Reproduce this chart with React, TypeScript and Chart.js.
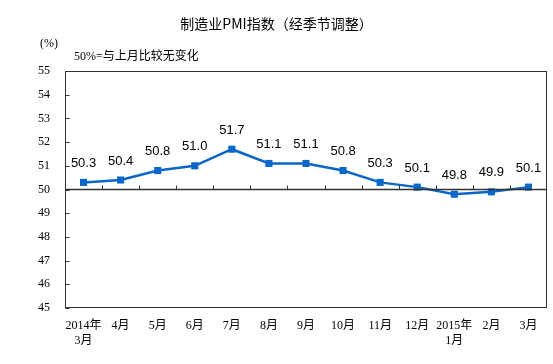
import React, { useEffect, useRef } from "react";
import { Chart, registerables } from "chart.js";

Chart.register(...registerables);

const title = "制造业PMI指数（经季节调整）";
const unitLabel = "(%)";
const note = "50%=与上月比较无变化";
const categories: (string | string[])[] = [
  ["2014年", "3月"], "4月", "5月", "6月", "7月", "8月", "9月", "10月", "11月", "12月",
  ["2015年", "1月"], "2月", "3月",
];
const pmiValues = [50.3, 50.4, 50.8, 51.0, 51.7, 51.1, 51.1, 50.8, 50.3, 50.1, 49.8, 49.9, 50.1];
const yMin = 45;
const yMax = 55;
const baseline = 50;

const LINE_COLOR = "#0a66c8";
const AXIS_COLOR = "#333333";

const decorPlugin = {
  id: "decor",
  afterDraw(chart: any) {
    const { ctx, chartArea } = chart;
    const x = chart.scales.x;
    const y = chart.scales.y;
    ctx.save();
    // box
    ctx.strokeStyle = AXIS_COLOR;
    ctx.lineWidth = 1;
    const l = Math.round(chartArea.left) + 0.5;
    const r = Math.round(chartArea.right) - 0.5;
    const t = Math.round(chartArea.top) + 0.5;
    const b = Math.round(chartArea.bottom) - 0.5;
    ctx.strokeRect(l, t, r - l, b - t);
    // y inner ticks
    ctx.beginPath();
    for (let v = yMin; v <= yMax; v++) {
      const py = Math.round(y.getPixelForValue(v)) + 0.5;
      ctx.moveTo(l, py);
      ctx.lineTo(l + 4, py);
    }
    ctx.stroke();
    // baseline at 50
    const by = y.getPixelForValue(baseline);
    ctx.lineWidth = 1.6;
    ctx.beginPath();
    ctx.moveTo(l, by);
    ctx.lineTo(r, by);
    ctx.stroke();
    ctx.lineWidth = 1;
    ctx.beginPath();
    for (let i = 1; i < categories.length; i++) {
      const px = Math.round((x.getPixelForValue(i - 1) + x.getPixelForValue(i)) / 2) + 0.5;
      ctx.moveTo(px, by);
      ctx.lineTo(px, by - 4);
    }
    ctx.stroke();

    // texts
    ctx.fillStyle = "#000";
    ctx.textBaseline = "middle";
    ctx.textAlign = "center";
    ctx.font = "14px 'Noto Sans CJK SC', sans-serif";
    ctx.fillText(title, chart.width / 2, 24);
    ctx.textAlign = "left";
    ctx.font = "12px 'Liberation Serif', 'Noto Sans CJK SC', serif";
    ctx.fillText(unitLabel, 40, 44);
    ctx.font = "12px 'Liberation Serif', 'Noto Sans CJK SC', serif";
    ctx.fillText(note, 74, 57);

    // data labels
    const meta = chart.getDatasetMeta(0);
    ctx.textAlign = "center";
    ctx.font = "13px 'Liberation Sans', Arial, sans-serif";
    meta.data.forEach((pt: any, i: number) => {
      ctx.fillText(pmiValues[i].toFixed(1), pt.x, pt.y - 19);
    });
    ctx.restore();
  },
};

export default function App() {
  const ref = useRef<HTMLCanvasElement | null>(null);
  useEffect(() => {
    document.body.style.margin = "0";
    const canvas = ref.current!;
    const chart = new Chart(canvas, {
      type: "line",
      data: {
        labels: categories,
        datasets: [
          {
            data: pmiValues,
            borderColor: LINE_COLOR,
            backgroundColor: LINE_COLOR,
            borderWidth: 2.5,
            pointStyle: "rect",
            pointRadius: 5,
            pointBackgroundColor: LINE_COLOR,
            pointBorderWidth: 0,
            tension: 0,
          },
        ],
      },
      options: {
        responsive: false,
        animation: false,
        devicePixelRatio: 1,
        layout: { padding: { top: 71, right: 6, left: 0, bottom: 0 } },
        plugins: { legend: { display: false }, title: { display: false }, tooltip: { enabled: false } },
        scales: {
          x: {
            type: "category",
            offset: true,
            grid: { display: false, drawTicks: false, tickLength: 0 },
            border: { display: false },
            ticks: {
              color: "#000",
              padding: 11,
              maxRotation: 0,
              autoSkip: false,
              font: { family: "'Liberation Serif', 'Noto Sans CJK SC', serif", size: 12, lineHeight: 1.2 },
            },
            afterFit(scale: any) {
              scale.height = 56;
            },
          },
          y: {
            min: yMin,
            max: yMax,
            grid: { display: false, drawTicks: false, tickLength: 0 },
            border: { display: false },
            ticks: {
              stepSize: 1,
              color: "#000",
              padding: 15,
              font: { family: "'Liberation Serif', serif", size: 12 },
            },
            afterFit(scale: any) {
              scale.width = 65;
            },
          },
        },
      },
      plugins: [decorPlugin],
    });
    return () => chart.destroy();
  }, []);
  return (
    <div style={{ width: 553, height: 364, background: "#fff" }}>
      <canvas ref={ref} width={553} height={364} style={{ display: "block" }} />
    </div>
  );
}
